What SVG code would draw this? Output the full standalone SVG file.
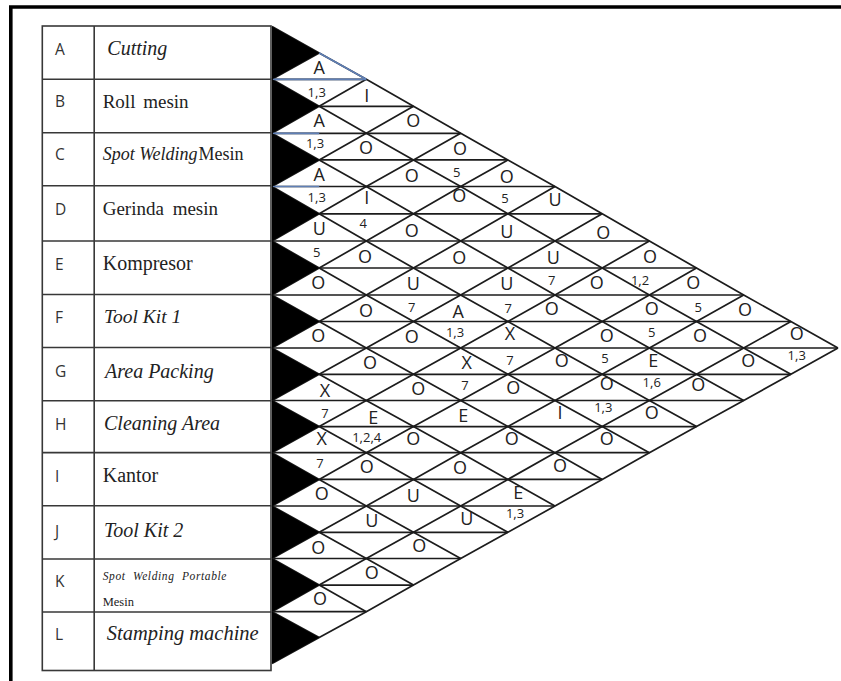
<svg xmlns="http://www.w3.org/2000/svg" width="841" height="681" viewBox="0 0 841 681">
<style>
.ln{fill:none;stroke:#1c1c1c;stroke-width:1.7;stroke-linejoin:round}
.bl{fill:none;stroke:#5f7fb5;stroke-width:1.7}
.tb{fill:none;stroke:#383838;stroke-width:1.6}
.tri{fill:#000}
.rel{font-family:"Open Sans","Liberation Sans",sans-serif;font-size:18px;fill:#222;text-anchor:middle}
.why{font-family:"Open Sans","Liberation Sans",sans-serif;font-size:13px;fill:#222;text-anchor:middle}
.code{font-family:"Open Sans","Liberation Sans",sans-serif;font-size:15.5px;fill:#333}
.nm{font-family:"Liberation Serif","Times New Roman",serif;font-size:20px;fill:#222}
.it{font-style:italic}
</style>
<rect width="841" height="681" fill="#fff"/>
<!-- page frame -->
<path d="M10.8 681 V7 H841" fill="none" stroke="#000" stroke-width="3.6"/>

<!-- activity table -->
<g id="table-grid" class="tb">
<rect x="42.3" y="26" width="228.7" height="644.5"/>
<path d="M94.2 26 V670.5 M42.3 79.3 H271 M42.3 132.8 H271 M42.3 185.8 H271 M42.3 241 H271 M42.3 294.5 H271 M42.3 347.5 H271 M42.3 400.8 H271 M42.3 452.6 H271 M42.3 505.7 H271 M42.3 559 H271 M42.3 612 H271"/>
</g>
<g id="row-A"><text class="code" x="55" y="55">A</text><text class="nm it" x="107.3" y="55">Cutting</text></g>
<g id="row-B"><text class="code" x="55" y="107.3">B</text><text class="nm" x="102.7" y="107.5" style="font-size:19px;word-spacing:3px">Roll mesin</text></g>
<g id="row-C"><text class="code" x="55" y="160">C</text><text class="nm" x="102.7" y="159.5" style="font-size:18px"><tspan class="it">Spot Welding</tspan><tspan dx="1">Mesin</tspan></text></g>
<g id="row-D"><text class="code" x="55" y="215">D</text><text class="nm" x="102.7" y="215" style="font-size:19px;word-spacing:4px">Gerinda mesin</text></g>
<g id="row-E"><text class="code" x="55" y="270">E</text><text class="nm" x="102.7" y="270">Kompresor</text></g>
<g id="row-F"><text class="code" x="55" y="323">F</text><text class="nm it" x="104" y="323.3" style="font-size:19.5px">Tool Kit 1</text></g>
<g id="row-G"><text class="code" x="55" y="376.7">G</text><text class="nm it" x="105" y="377.7">Area Packing</text></g>
<g id="row-H"><text class="code" x="55" y="430">H</text><text class="nm it" x="104" y="430">Cleaning Area</text></g>
<g id="row-I"><text class="code" x="55" y="481.7">I</text><text class="nm" x="102.7" y="481.7">Kantor</text></g>
<g id="row-J"><text class="code" x="55" y="537">J</text><text class="nm it" x="104" y="536.7">Tool Kit 2</text></g>
<g id="row-K"><text class="code" x="55" y="587">K</text><text class="nm it" x="102.7" y="580" style="font-size:11.5px;letter-spacing:0.6px;word-spacing:4px">Spot Welding Portable</text><text class="nm" x="102.7" y="606" style="font-size:12.5px">Mesin</text></g>
<g id="row-L"><text class="code" x="55" y="640">L</text><text class="nm it" x="106.7" y="640" style="font-size:20.5px">Stamping machine</text></g>

<!-- lattice of the relationship chart -->
<g id="connectors">
<path class="ln" d="M272 79.3 H366.3 M319.2 106.3 H413.5 M272 133.3 H460.7 M319.2 159.9 H507.9 M272 186.5 H555 M319.2 213.8 H602.2 M272 241 H649.4 M319.2 268 H696.5 M272 295 H743.7 M319.2 321.5 H790.9 M272 348 H838 M319.2 374.3 H790.9 M272 400.5 H743.7 M319.2 426.6 H696.5 M272 452.7 H649.4 M319.2 479.4 H602.2 M272 506 H555 M319.2 532.3 H507.9 M272 558.5 H460.7 M319.2 585.1 H413.5 M272 611.7 H366.3"/>
<path class="ln" d="M272 26.5 L319.2 52.9 L366.3 79.3 L413.5 106.3 L460.7 133.3 L507.9 159.9 L555 186.5 L602.2 213.8 L649.4 241 L696.5 268 L743.7 295 L790.9 321.5 L838 348
M272 79.3 L319.2 106.3 L366.3 133.3 L413.5 159.9 L460.7 186.5 L507.9 213.8 L555 241 L602.2 268 L649.4 295 L696.5 321.5 L743.7 348 L790.9 374.3
M272 133.3 L319.2 159.9 L366.3 186.5 L413.5 213.8 L460.7 241 L507.9 268 L555 295 L602.2 321.5 L649.4 348 L696.5 374.3 L743.7 400.5
M272 186.5 L319.2 213.8 L366.3 241 L413.5 268 L460.7 295 L507.9 321.5 L555 348 L602.2 374.3 L649.4 400.5 L696.5 426.6
M272 241 L319.2 268 L366.3 295 L413.5 321.5 L460.7 348 L507.9 374.3 L555 400.5 L602.2 426.6 L649.4 452.7
M272 295 L319.2 321.5 L366.3 348 L413.5 374.3 L460.7 400.5 L507.9 426.6 L555 452.7 L602.2 479.4
M272 348 L319.2 374.3 L366.3 400.5 L413.5 426.6 L460.7 452.7 L507.9 479.4 L555 506
M272 400.5 L319.2 426.6 L366.3 452.7 L413.5 479.4 L460.7 506 L507.9 532.3
M272 452.7 L319.2 479.4 L366.3 506 L413.5 532.3 L460.7 558.5
M272 506 L319.2 532.3 L366.3 558.5 L413.5 585.1
M272 558.5 L319.2 585.1 L366.3 611.7
M272 611.7 L319.2 637.6"/>
<path class="ln" d="M272 79.3 L319.2 52.9
M272 133.3 L319.2 106.3 L366.3 79.3
M272 186.5 L319.2 159.9 L366.3 133.3 L413.5 106.3
M272 241 L319.2 213.8 L366.3 186.5 L413.5 159.9 L460.7 133.3
M272 295 L319.2 268 L366.3 241 L413.5 213.8 L460.7 186.5 L507.9 159.9
M272 348 L319.2 321.5 L366.3 295 L413.5 268 L460.7 241 L507.9 213.8 L555 186.5
M272 400.5 L319.2 374.3 L366.3 348 L413.5 321.5 L460.7 295 L507.9 268 L555 241 L602.2 213.8
M272 452.7 L319.2 426.6 L366.3 400.5 L413.5 374.3 L460.7 348 L507.9 321.5 L555 295 L602.2 268 L649.4 241
M272 506 L319.2 479.4 L366.3 452.7 L413.5 426.6 L460.7 400.5 L507.9 374.3 L555 348 L602.2 321.5 L649.4 295 L696.5 268
M272 558.5 L319.2 532.3 L366.3 506 L413.5 479.4 L460.7 452.7 L507.9 426.6 L555 400.5 L602.2 374.3 L649.4 348 L696.5 321.5 L743.7 295
M272 611.7 L319.2 585.1 L366.3 558.5 L413.5 532.3 L460.7 506 L507.9 479.4 L555 452.7 L602.2 426.6 L649.4 400.5 L696.5 374.3 L743.7 348 L790.9 321.5
M272 663.5 L319.2 637.6 L366.3 611.7 L413.5 585.1 L460.7 558.5 L507.9 532.3 L555 506 L602.2 479.4 L649.4 452.7 L696.5 426.6 L743.7 400.5 L790.9 374.3 L838 348"/>
<path class="bl" d="M273 79.3 H366.3 M273 133.3 H319.2 M273 186.5 H319.2 M319.2 52.9 L366.3 79.3"/>
</g>

<!-- row markers -->
<g id="markers" class="tri">
<path d="M272 26.5 L319.2 52.9 L272 79.3Z"/>
<path d="M272 79.3 L319.2 106.3 L272 133.3Z"/>
<path d="M272 133.3 L319.2 159.9 L272 186.5Z"/>
<path d="M272 186.5 L319.2 213.8 L272 241Z"/>
<path d="M272 241 L319.2 268 L272 295Z"/>
<path d="M272 295 L319.2 321.5 L272 348Z"/>
<path d="M272 348 L319.2 374.3 L272 400.5Z"/>
<path d="M272 400.5 L319.2 426.6 L272 452.7Z"/>
<path d="M272 452.7 L319.2 479.4 L272 506Z"/>
<path d="M272 506 L319.2 532.3 L272 558.5Z"/>
<path d="M272 558.5 L319.2 585.1 L272 611.7Z"/>
<path d="M272 611.7 L319.2 637.6 L272 663.5Z"/>
</g>

<!-- relationship codes and reasons -->
<g id="rel-A-B"><text class="rel" x="319.3" y="73.5">A</text><text class="why" x="316.7" y="96.7">1,3</text></g>
<g id="rel-A-C"><text class="rel" x="366.7" y="101.8">I</text></g>
<g id="rel-A-D"><text class="rel" x="413.3" y="126.8">O</text></g>
<g id="rel-A-E"><text class="rel" x="460" y="155">O</text><text class="why" x="456.7" y="176.7">5</text></g>
<g id="rel-A-F"><text class="rel" x="506.7" y="183">O</text><text class="why" x="505" y="203">5</text></g>
<g id="rel-A-G"><text class="rel" x="555" y="205.8">U</text></g>
<g id="rel-A-H"><text class="rel" x="603.3" y="238.5">O</text></g>
<g id="rel-A-I"><text class="rel" x="650" y="262.8">O</text><text class="why" x="640" y="285">1,2</text></g>
<g id="rel-A-J"><text class="rel" x="693.3" y="288.5">O</text><text class="why" x="698.3" y="312.3">5</text></g>
<g id="rel-A-K"><text class="rel" x="745" y="316">O</text></g>
<g id="rel-A-L"><text class="rel" x="796.7" y="340">O</text><text class="why" x="796.7" y="360">1,3</text></g>
<g id="rel-B-C"><text class="rel" x="319.3" y="126.8">A</text><text class="why" x="315" y="148.3">1,3</text></g>
<g id="rel-B-D"><text class="rel" x="366" y="153.5">O</text></g>
<g id="rel-B-E"><text class="rel" x="411.7" y="181.8">O</text></g>
<g id="rel-B-F"><text class="rel" x="459.3" y="201.8">O</text></g>
<g id="rel-B-G"><text class="rel" x="506.7" y="237.5">U</text></g>
<g id="rel-B-H"><text class="rel" x="553.3" y="263.5">U</text><text class="why" x="551.7" y="285">7</text></g>
<g id="rel-B-I"><text class="rel" x="596.7" y="288.5">O</text></g>
<g id="rel-B-J"><text class="rel" x="651.7" y="315">O</text><text class="why" x="651.7" y="336.7">5</text></g>
<g id="rel-B-K"><text class="rel" x="700" y="341.8">O</text></g>
<g id="rel-B-L"><text class="rel" x="748.3" y="366.8">O</text></g>
<g id="rel-C-D"><text class="rel" x="319.3" y="180.8">A</text><text class="why" x="316.7" y="202.3">1,3</text></g>
<g id="rel-C-E"><text class="rel" x="366.7" y="203.5">I</text><text class="why" x="363.3" y="228">4</text></g>
<g id="rel-C-F"><text class="rel" x="411.7" y="236.8">O</text></g>
<g id="rel-C-G"><text class="rel" x="459.3" y="263.5">O</text></g>
<g id="rel-C-H"><text class="rel" x="506.7" y="290">U</text><text class="why" x="508.3" y="313.3">7</text></g>
<g id="rel-C-I"><text class="rel" x="551.7" y="315">O</text></g>
<g id="rel-C-J"><text class="rel" x="606.7" y="341.8">O</text><text class="why" x="605" y="363.3">5</text></g>
<g id="rel-C-K"><text class="rel" x="653.3" y="366.8">E</text><text class="why" x="651.7" y="386.7">1,6</text></g>
<g id="rel-C-L"><text class="rel" x="698.3" y="390.8">O</text></g>
<g id="rel-D-E"><text class="rel" x="319.3" y="234.8">U</text><text class="why" x="316.7" y="256.7">5</text></g>
<g id="rel-D-F"><text class="rel" x="365" y="262.8">O</text></g>
<g id="rel-D-G"><text class="rel" x="413.3" y="290">U</text><text class="why" x="411.7" y="312.3">7</text></g>
<g id="rel-D-H"><text class="rel" x="458.3" y="317.5">A</text><text class="why" x="455" y="336.7">1,3</text></g>
<g id="rel-D-I"><text class="rel" x="510" y="340">X</text><text class="why" x="510" y="365">7</text></g>
<g id="rel-D-J"><text class="rel" x="561.7" y="366.8">O</text></g>
<g id="rel-D-K"><text class="rel" x="606.7" y="390">O</text><text class="why" x="603.3" y="412.3">1,3</text></g>
<g id="rel-D-L"><text class="rel" x="651.7" y="418.5">O</text></g>
<g id="rel-E-F"><text class="rel" x="318.3" y="288.5">O</text></g>
<g id="rel-E-G"><text class="rel" x="366" y="316.8">O</text></g>
<g id="rel-E-H"><text class="rel" x="411.7" y="342.8">O</text></g>
<g id="rel-E-I"><text class="rel" x="466.7" y="368.5">X</text><text class="why" x="465" y="390">7</text></g>
<g id="rel-E-J"><text class="rel" x="513.3" y="393.5">O</text></g>
<g id="rel-E-K"><text class="rel" x="560" y="418.5">I</text></g>
<g id="rel-E-L"><text class="rel" x="606.7" y="445">O</text></g>
<g id="rel-F-G"><text class="rel" x="318.3" y="341.8">O</text></g>
<g id="rel-F-H"><text class="rel" x="370" y="368.5">O</text></g>
<g id="rel-F-I"><text class="rel" x="418.3" y="395">O</text></g>
<g id="rel-F-J"><text class="rel" x="463.3" y="421.8">E</text></g>
<g id="rel-F-K"><text class="rel" x="511.7" y="445">O</text></g>
<g id="rel-F-L"><text class="rel" x="560" y="471.8">O</text></g>
<g id="rel-G-H"><text class="rel" x="325" y="396.8">X</text><text class="why" x="325" y="418.3">7</text></g>
<g id="rel-G-I"><text class="rel" x="373.3" y="423.5">E</text><text class="why" x="366.7" y="441.7">1,2,4</text></g>
<g id="rel-G-J"><text class="rel" x="413.3" y="445">O</text></g>
<g id="rel-G-K"><text class="rel" x="460" y="473.5">O</text></g>
<g id="rel-G-L"><text class="rel" x="518.3" y="498.5">E</text><text class="why" x="515" y="518.3">1,3</text></g>
<g id="rel-H-I"><text class="rel" x="321.7" y="445">X</text><text class="why" x="320" y="468.3">7</text></g>
<g id="rel-H-J"><text class="rel" x="366.7" y="472.8">O</text></g>
<g id="rel-H-K"><text class="rel" x="413.3" y="501.8">U</text></g>
<g id="rel-H-L"><text class="rel" x="466.7" y="525">U</text></g>
<g id="rel-I-J"><text class="rel" x="321.7" y="500">O</text></g>
<g id="rel-I-K"><text class="rel" x="371.7" y="526.8">U</text></g>
<g id="rel-I-L"><text class="rel" x="419.3" y="551.8">O</text></g>
<g id="rel-J-K"><text class="rel" x="318.3" y="553.5">O</text></g>
<g id="rel-J-L"><text class="rel" x="371.7" y="578.5">O</text></g>
<g id="rel-K-L"><text class="rel" x="320" y="605">O</text></g>
</svg>
